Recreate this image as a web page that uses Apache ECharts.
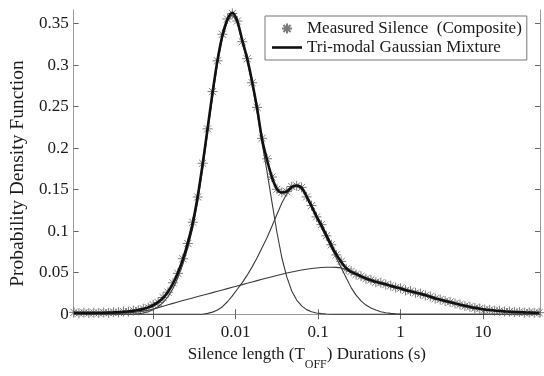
<!DOCTYPE html>
<html>
<head>
<meta charset="utf-8">
<script src="https://cdn.jsdelivr.net/npm/echarts@6/dist/echarts.min.js"></script>
<style>
html,body{margin:0;padding:0;background:#fff;}
#chart{width:544px;height:376px;}
</style>
</head>
<body>
<div id="chart"></div>
<script>
// Silence durations (s), log-spaced sample points
var durations = [
1.096e-4,1.259e-4,1.445e-4,1.660e-4,1.905e-4,2.188e-4,2.512e-4,2.884e-4,3.311e-4,3.802e-4,
4.365e-4,5.012e-4,5.754e-4,6.607e-4,7.586e-4,8.710e-4,1.000e-3,1.148e-3,1.318e-3,1.514e-3,
1.738e-3,1.995e-3,2.291e-3,2.630e-3,3.020e-3,3.467e-3,3.981e-3,4.571e-3,5.248e-3,6.026e-3,
6.918e-3,7.943e-3,9.120e-3,1.047e-2,1.202e-2,1.380e-2,1.585e-2,1.820e-2,2.089e-2,2.399e-2,
2.754e-2,3.162e-2,3.631e-2,4.169e-2,4.786e-2,5.495e-2,6.310e-2,7.244e-2,8.318e-2,9.550e-2,
0.1096,0.1259,0.1445,0.1660,0.1905,0.2188,0.2512,0.2884,0.3311,0.3802,
0.4365,0.5012,0.5754,0.6607,0.7586,0.8710,1.000,1.148,1.318,1.514,
1.738,1.995,2.291,2.630,3.020,3.467,3.981,4.571,5.248,6.026,
6.918,7.943,9.120,10.47,12.02,13.80,15.85,18.20,20.89,23.99,
27.54,31.62,36.31,41.69,47.86];

// Measured silence PDF (composite)
var measured = [
0.0022,0.0012,0.0019,0.0013,0.0018,0.0014,0.0021,0.0017,0.0025,0.0022,
0.0032,0.0031,0.0044,0.0047,0.0066,0.0079,0.0113,0.0141,0.0201,0.0265,
0.0378,0.0492,0.0668,0.0852,0.1108,0.1412,0.1818,0.2232,0.2681,0.3052,
0.3372,0.3556,0.3622,0.3531,0.3282,0.3077,0.2788,0.2491,0.2118,0.1872,
0.1652,0.1505,0.1468,0.1476,0.1538,0.1546,0.1527,0.1413,0.1308,0.1172,
0.1078,0.0944,0.0836,0.0714,0.0636,0.0545,0.0516,0.0479,0.0458,0.0426,
0.0414,0.0386,0.0379,0.0356,0.0344,0.0321,0.0313,0.0287,0.0279,0.0257,
0.0248,0.0227,0.0213,0.0188,0.0177,0.0158,0.0147,0.0128,0.0117,0.0098,
0.0090,0.0074,0.0068,0.0055,0.0052,0.0042,0.0041,0.0032,0.0032,0.0025,
0.0026,0.0020,0.0022,0.0016,0.0019];

// Tri-modal Gaussian mixture fit
var mixture = [
0.0018,0.0017,0.0016,0.0016,0.0016,0.0017,0.0018,0.0020,0.0022,0.0025,
0.0029,0.0034,0.0040,0.0050,0.0062,0.0082,0.0108,0.0145,0.0195,0.0270,
0.0370,0.0500,0.0660,0.0860,0.1100,0.1420,0.1810,0.2240,0.2670,0.3060,
0.3360,0.3550,0.3630,0.3530,0.3300,0.3080,0.2800,0.2480,0.2110,0.1860,
0.1650,0.1510,0.1465,0.1480,0.1530,0.1550,0.1520,0.1420,0.1300,0.1180,
0.1070,0.0950,0.0830,0.0720,0.0630,0.0555,0.0510,0.0485,0.0455,0.0430,
0.0410,0.0390,0.0375,0.0360,0.0340,0.0325,0.0310,0.0290,0.0275,0.0260,
0.0245,0.0230,0.0210,0.0190,0.0175,0.0160,0.0145,0.0130,0.0115,0.0100,
0.0088,0.0076,0.0066,0.0057,0.0050,0.0044,0.0039,0.0034,0.0030,0.0027,
0.0024,0.0022,0.0020,0.0018,0.0017];

// Individual components
var comp1 = [
0,0,0,0,0,0,0,0,0,0,
0,0,0,0.0006,0.0014,0.0030,0.0055,0.0090,0.0140,0.0210,
0.0310,0.0440,0.0600,0.0800,0.1040,0.1360,0.1750,0.2190,0.2620,0.3020,
0.3330,0.3530,0.3610,0.3510,0.3280,0.3050,0.2770,0.2440,0.2060,0.1720,
0.1350,0.0990,0.0680,0.0450,0.0280,0.0170,0.0100,0.0055,0.0030,0.0015,
0.0007,0.0003,0,0,0,0,0,0,0,0,
0,0,0,0,0,0,0,0,0,0,
0,0,0,0,0,0,0,0,0,0,
0,0,0,0,0,0,0,0,0,0,
0,0,0,0,0];
var comp2 = [
0,0,0,0,0,0,0,0,0,0,
0,0,0,0,0,0,0,0,0,0,
0,0,0,0,0,0,0,0.0010,0.0025,0.0050,
0.0090,0.0150,0.0220,0.0300,0.0380,0.0470,0.0570,0.0680,0.0800,0.0920,
0.1060,0.1200,0.1340,0.1450,0.1520,0.1550,0.1520,0.1420,0.1290,0.1160,
0.1040,0.0920,0.0800,0.0680,0.0560,0.0440,0.0320,0.0230,0.0160,0.0110,
0.0075,0.0050,0.0030,0.0018,0.0010,0.0005,0.0002,0,0,0,
0,0,0,0,0,0,0,0,0,0,
0,0,0,0,0,0,0,0,0,0,
0,0,0,0,0];
var comp3 = [
0.0001,0.0001,0.0001,0.0001,0.0002,0.0003,0.0004,0.0006,0.0008,0.0010,
0.0013,0.0017,0.0022,0.0029,0.0037,0.0048,0.0062,0.0079,0.0096,0.0113,
0.0130,0.0147,0.0164,0.0180,0.0196,0.0212,0.0228,0.0244,0.0260,0.0276,
0.0292,0.0308,0.0324,0.0340,0.0356,0.0372,0.0388,0.0404,0.0420,0.0436,
0.0452,0.0467,0.0482,0.0496,0.0509,0.0521,0.0532,0.0542,0.0550,0.0557,
0.0562,0.0565,0.0566,0.0564,0.0558,0.0536,0.0505,0.0480,0.0452,0.0428,
0.0408,0.0388,0.0373,0.0358,0.0338,0.0323,0.0308,0.0288,0.0273,0.0258,
0.0243,0.0228,0.0208,0.0188,0.0173,0.0158,0.0143,0.0128,0.0113,0.0098,
0.0086,0.0074,0.0064,0.0055,0.0048,0.0042,0.0037,0.0032,0.0028,0.0025,
0.0022,0.0020,0.0018,0.0016,0.0015];

var xTicks = [0.001, 0.01, 0.1, 1, 10];
var yTicks = [0, 0.05, 0.1, 0.15, 0.2, 0.25, 0.3, 0.35];

function pairs(vals){ return durations.map(function(x,i){ return [x, vals[i]]; }); }

var FONT = '"Liberation Serif", "Times New Roman", serif';
var AX = '#9a9a9a';
var star = 'path://M0,-10L0,10M-10,0L10,0M-7.1,-7.1L7.1,7.1M-7.1,7.1L7.1,-7.1';
var lineIcon = 'path://M0,0H30V2.6H0Z';

function compSeries(vals){
  return {type:'line', data:pairs(vals), showSymbol:false, symbol:'none', smooth:false,
    lineStyle:{color:'#3a3a3a', width:1.1}, z:2, silent:true};
}

var chart = echarts.init(document.getElementById('chart'), null, {renderer:'canvas'});
chart.setOption({
  animation:false,
  backgroundColor:'#ffffff',
  grid:{left:69, right:4, top:10, bottom:50},
  legend:{
    left:265, top:16, orient:'vertical',
    itemWidth:30, itemHeight:10, itemGap:0,
    padding:[3,5,3,7],
    backgroundColor:'#ffffff', borderColor:'#777', borderWidth:1,
    textStyle:{fontFamily:FONT, fontSize:17, color:'#1a1a1a', lineHeight:19},
    data:[
      {name:'Measured Silence  (Composite)', icon:star},
      {name:'Tri-modal Gaussian Mixture', icon:lineIcon, itemStyle:{color:'#111'}}
    ]
  },
  xAxis:[{
    type:'log', logBase:10, min:1.086e-4, max:49,
    name:'{a|Silence length (T}{s|OFF}{a|) Durations (s)}',
    nameLocation:'middle', nameGap:27,
    nameTextStyle:{rich:{
      a:{fontFamily:FONT, fontSize:17, color:'#1a1a1a', lineHeight:20, verticalAlign:'top'},
      s:{fontFamily:FONT, fontSize:12, color:'#1a1a1a', lineHeight:12, verticalAlign:'top', padding:[13,0,0,0]}
    }},
    axisLine:{show:true, lineStyle:{color:AX, width:1}},
    axisTick:{show:true, inside:true, length:5, customValues:xTicks, lineStyle:{color:'#666'}},
    axisLabel:{show:true, customValues:xTicks, margin:7, fontFamily:FONT, fontSize:17, color:'#1a1a1a',
      formatter:function(v){ return String(+v.toPrecision(3)); }},
    minorTick:{show:false}, splitLine:{show:false}, minorSplitLine:{show:false}
  },{
    type:'log', logBase:10, min:1.086e-4, max:49, position:'top',
    axisLine:{show:true, lineStyle:{color:AX, width:1}},
    axisTick:{show:true, inside:true, length:5, customValues:xTicks, lineStyle:{color:'#666'}},
    axisLabel:{show:false}, splitLine:{show:false}
  }],
  yAxis:[{
    type:'value', min:-0.0035, max:0.3664,
    name:'Probability Density Function', nameLocation:'middle', nameGap:37,
    nameTextStyle:{fontFamily:FONT, fontSize:19.5, color:'#1a1a1a', padding:[0,20,0,0]},
    axisLine:{show:true, lineStyle:{color:AX, width:1}},
    axisTick:{show:true, inside:true, length:5, customValues:yTicks, lineStyle:{color:'#666'}},
    axisLabel:{show:true, customValues:yTicks, margin:5, fontFamily:FONT, fontSize:17, color:'#1a1a1a'},
    splitLine:{show:false}
  },{
    type:'value', min:-0.0035, max:0.3664, position:'right',
    axisLine:{show:true, lineStyle:{color:AX, width:1}},
    axisTick:{show:true, inside:true, length:5, customValues:yTicks, lineStyle:{color:'#666'}},
    axisLabel:{show:false}, splitLine:{show:false}
  }],
  series:[
    compSeries(comp1), compSeries(comp2), compSeries(comp3),
    {name:'Measured Silence  (Composite)', type:'scatter', data:pairs(measured),
      symbol:star, symbolSize:10,
      itemStyle:{color:'none', borderColor:'#5a5a5a', borderWidth:1}, z:3},
    {name:'Tri-modal Gaussian Mixture', type:'line', data:pairs(mixture),
      showSymbol:false, symbol:'none', smooth:0.3,
      lineStyle:{color:'#111', width:2.6}, itemStyle:{color:'#111'}, z:4}
  ]
});
</script>
</body>
</html>
